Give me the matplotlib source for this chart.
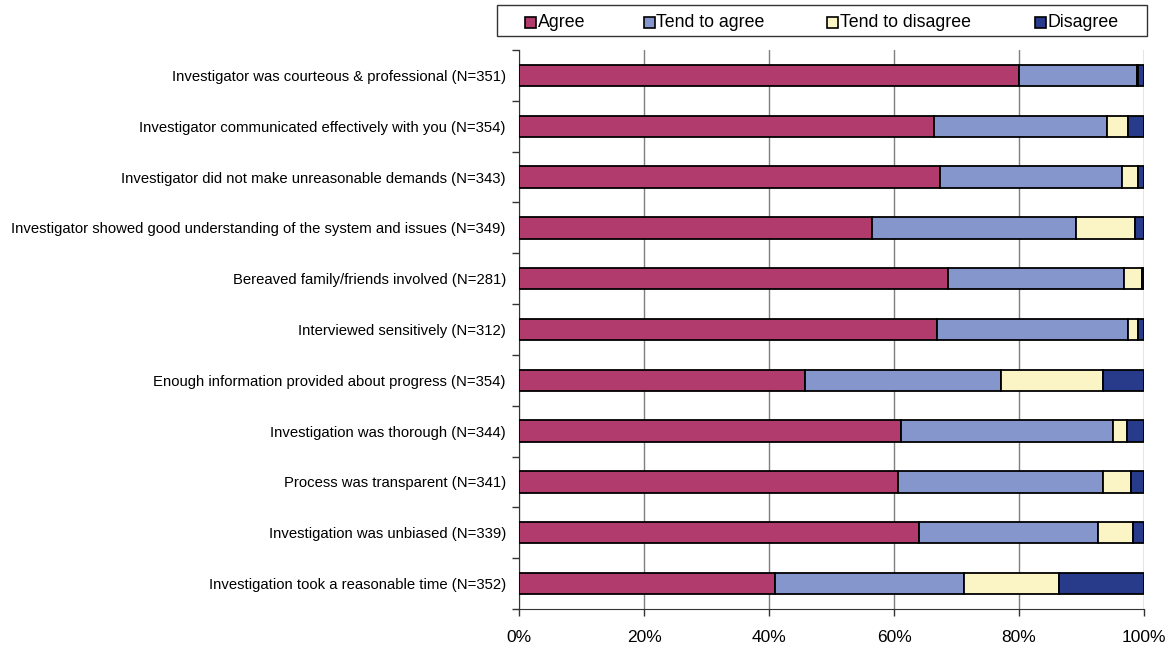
import matplotlib
matplotlib.use("Agg")
import matplotlib.pyplot as plt
from matplotlib.patches import Rectangle
from matplotlib.ticker import FixedLocator, PercentFormatter

plt.rcParams['font.family'] = ['Liberation Sans', 'DejaVu Sans']

categories = [
    "Investigator was courteous & professional (N=351)",
    "Investigator communicated effectively with you (N=354)",
    "Investigator did not make unreasonable demands (N=343)",
    "Investigator showed good understanding of the system and issues (N=349)",
    "Bereaved family/friends involved (N=281)",
    "Interviewed sensitively (N=312)",
    "Enough information provided about progress (N=354)",
    "Investigation was thorough (N=344)",
    "Process was transparent (N=341)",
    "Investigation was unbiased (N=339)",
    "Investigation took a reasonable time (N=352)",
]
agree = [80.0, 66.4, 67.4, 56.4, 68.7, 66.9, 45.7, 61.1, 60.7, 64.0, 40.9]
tend_agree = [18.8, 27.6, 29.0, 32.7, 28.1, 30.5, 31.4, 34.0, 32.8, 28.6, 30.3]
tend_disagree = [0.3, 3.5, 2.7, 9.5, 2.9, 1.6, 16.4, 2.2, 4.4, 5.6, 15.2]
disagree = [0.9, 2.5, 0.9, 1.4, 0.3, 1.0, 6.5, 2.7, 2.1, 1.8, 13.6]

series = [
    ("Agree", agree, "#B23B6E"),
    ("Tend to agree", tend_agree, "#8496CB"),
    ("Tend to disagree", tend_disagree, "#FBF5C5"),
    ("Disagree", disagree, "#283A8A"),
]

W, H = 1171, 648
fig = plt.figure(figsize=(W / 100, H / 100), dpi=100)
ax = fig.add_axes([519 / W, 1 - 609 / H, (1144 - 519) / W, (609 - 50) / H])

n = len(categories)
ypos = list(range(n))
left = [0.0] * n
for name, vals, color in series:
    ax.barh(ypos, vals, left=left, height=0.42, color=color,
            edgecolor="black", linewidth=1.3, zorder=3)
    left = [l + v for l, v in zip(left, vals)]

ax.set_xlim(0, 100)
ax.set_ylim(n - 0.5, -0.5)
ax.set_yticks(ypos)
ax.set_yticklabels(categories, fontsize=10.7)
ax.tick_params(axis="y", length=0, pad=9.5)
ax.yaxis.set_minor_locator(FixedLocator([i - 0.5 for i in range(n + 1)]))
ax.tick_params(axis="y", which="minor", length=5, width=1, color="#333333")

ax.set_xticks([0, 20, 40, 60, 80, 100])
ax.xaxis.set_major_formatter(PercentFormatter(decimals=0))
ax.tick_params(axis="x", length=5, width=1, color="#333333", labelsize=12.5, pad=10)
ax.grid(axis="x", color="#7f7f7f", linewidth=1, zorder=0)

for side in ["top", "right"]:
    ax.spines[side].set_visible(False)
ax.spines["left"].set_color("#333333")
ax.spines["bottom"].set_color("#333333")

# Legend box across the top, with each key placed along one row
fig.patches.append(Rectangle((497 / W, 1 - 36 / H), (1147 - 497) / W, 31 / H,
                             transform=fig.transFigure, facecolor="white",
                             edgecolor="#333333", linewidth=1))
key_x = [525, 644, 827, 1035]
key_cy = 22
key_size = 11
for (name, _, color), kx in zip(series, key_x):
    fig.patches.append(Rectangle((kx / W, 1 - (key_cy + key_size / 2) / H),
                                 key_size / W, key_size / H,
                                 transform=fig.transFigure, facecolor=color,
                                 edgecolor="black", linewidth=1.2))
    fig.text((kx + key_size + 1.5) / W, 1 - (key_cy + 0.5) / H, name,
             fontsize=12.8, ha="left", va="center")

fig.savefig("out.png", dpi=100)
